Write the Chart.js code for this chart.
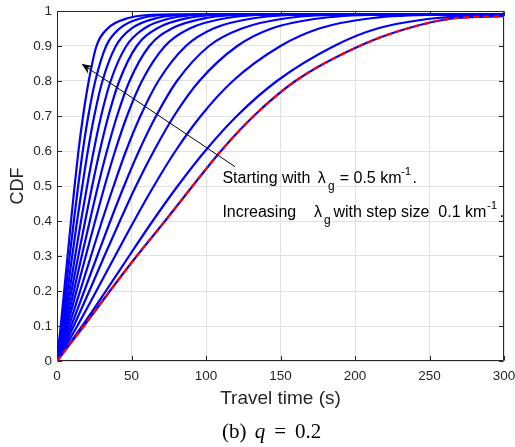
<!DOCTYPE html>
<html>
<head>
<meta charset="utf-8">
<script src="https://cdn.jsdelivr.net/npm/chart.js@4.4.0/dist/chart.umd.min.js"></script>
<style>
  html, body { margin: 0; padding: 0; background: #fff; }
  #wrap { position: relative; width: 515px; height: 447px; }
  #caption {
    position: absolute; left: 222px; top: 419px; line-height: 24px; white-space: nowrap;
    font-family: "Liberation Serif", "DejaVu Serif", serif; font-size: 21px; color: #000;
  }
  #caption .q { margin-left: 3px; }
  #caption .eq { margin: 0 9px; }
</style>
</head>
<body>
<div id="wrap">
  <canvas id="c" width="515" height="447"></canvas>
  <div id="caption">(b) <i class="q">q</i><span class="eq">=</span>0.2</div>
</div>
<script>
'use strict';

const LEVELS = [0, 0.1, 0.2, 0.3, 0.4, 0.5, 0.6, 0.7, 0.8, 0.9, 0.95, 0.98, 0.99];

// travel time (s) where each curve reaches LEVELS, lambda_g = 0.5 ... 1.7 km^-1
// (null = level not reached inside 0..300 s)
const T_L05 = [0, 18, 35.5, 53.5, 72.5, 91, 110, 132, 160, 203, 235, 268, null];
const T_L06 = [0, 16.9, 32.8, 48.4, 64.2, 81, 99.4, 120.7, 147.6, 186, 215, 255, null];
const T_L07 = [0, 13.6, 26.4, 39, 51.7, 65, 79.5, 96.5, 118, 150, 176, 212, 265];
const T_L08 = [0, 11.2, 21.7, 31.8, 42.2, 53, 65, 78.5, 95.5, 121, 144, 178, 225];
const T_L09 = [0, 9.5, 18.3, 27, 35.8, 45, 55, 66.5, 80.5, 102, 124, 155, 200];
const T_L10 = [0, 8.0, 15.5, 22.8, 30.2, 38, 46.3, 56, 68, 86.5, 105, 133, 175];
const T_L11 = [0, 6.8, 13.1, 19.3, 25.6, 32, 39, 47, 57, 72.5, 89, 114, 150];
const T_L12 = [0, 5.9, 11.3, 16.6, 22, 27.5, 33.5, 40.3, 48.7, 62, 77, 100, 133];
const T_L13 = [0, 5.0, 9.7, 14.3, 18.9, 23.6, 28.7, 34.5, 41.8, 53.5, 67, 88, 118];
const T_L14 = [0, 4.3, 8.3, 12.2, 16.1, 20.2, 24.6, 29.6, 36, 46.5, 58.5, 77, 105];
const T_L15 = [0, 3.6, 7.0, 10.2, 13.5, 17, 20.7, 25, 30.5, 39.5, 50, 67, 93];
const T_L16 = [0, 3.0, 5.8, 8.5, 11.3, 14.2, 17.3, 21, 25.7, 33, 42, 57, 80];
const T_L17 = [0, 2.5, 4.8, 7.1, 9.4, 11.8, 14.4, 17.5, 21.3, 26.5, 34, 48, 70];

const CURVES = [T_L05, T_L06, T_L07, T_L08, T_L09, T_L10, T_L11, T_L12, T_L13, T_L14, T_L15, T_L16, T_L17];

// CDF value at the end of the time axis (300 s), same order as CURVES
const END_T = 300;
const END_CDF = [0.985, 0.988, 0.991, 0.991, 0.991, 0.991, 0.991, 0.991, 0.991, 0.991, 0.991, 0.991, 0.991];

// simulated curve for lambda_g = 0.5 (lies on the analytical one)
const SIM_T = T_L05;
const SIM_END = 0.985;

const X_TICKS = [0, 50, 100, 150, 200, 250, 300];
const Y_TICKS = [0, 0.1, 0.2, 0.3, 0.4, 0.5, 0.6, 0.7, 0.8, 0.9, 1];

const AX = '#262626';
const FONT = '"Liberation Sans", Arial, Helvetica, sans-serif';

function points(times, endVal) {
  const pts = [];
  times.forEach((t, i) => { if (t !== null) pts.push({ x: t, y: LEVELS[i] }); });
  pts.push({ x: END_T, y: endVal });
  return pts;
}

const datasets = CURVES.map((times, i) => ({
  data: points(times, END_CDF[i]),
  borderColor: '#0000ff',
  borderWidth: 2.2,
  pointRadius: 0,
  cubicInterpolationMode: 'monotone',
  fill: false,
  order: 1
}));
datasets.push({
  data: points(SIM_T, SIM_END),
  borderColor: '#ff0000',
  borderWidth: 2.2,
  borderDash: [6, 4],
  pointRadius: 0,
  cubicInterpolationMode: 'monotone',
  fill: false,
  order: 0
});

// ── axes box with inward ticks (drawn under the curves) ─────────────────
const boxPlugin = {
  id: 'box',
  beforeDatasetsDraw(chart) {
    const { ctx, chartArea: a, scales: { x, y } } = chart;
    const L = Math.round(a.left) + 0.5, R = Math.round(a.right) - 0.5;
    const T = Math.round(a.top) + 0.5, B = Math.round(a.bottom) - 0.5;
    const tl = 4.5;
    ctx.save();
    ctx.strokeStyle = AX;
    ctx.lineWidth = 1;
    ctx.beginPath();
    ctx.rect(L, T, R - L, B - T);
    X_TICKS.forEach(v => {
      const px = Math.round(x.getPixelForValue(v)) + 0.5;
      ctx.moveTo(px, B); ctx.lineTo(px, B - tl);
      ctx.moveTo(px, T); ctx.lineTo(px, T + tl);
    });
    Y_TICKS.forEach(v => {
      const py = Math.round(y.getPixelForValue(v)) + 0.5;
      ctx.moveTo(L, py); ctx.lineTo(L + tl, py);
      ctx.moveTo(R, py); ctx.lineTo(R - tl, py);
    });
    ctx.stroke();
    ctx.restore();
  }
};

// ── arrow + text annotation ──────────────────────────────────────────────
const ARROW_FROM = [119.5, 0.555];
const ARROW_TO = [16.5, 0.849];
const TEXT_X = 111;
const TEXT_Y = [0.509, 0.412];

function richLine(ctx, x0, y0, parts) {
  parts.forEach(p => {
    ctx.font = p.size + 'px ' + FONT;
    ctx.fillText(p.t, x0 + p.dx, y0 + (p.dy || 0));
  });
}

const annotPlugin = {
  id: 'annot',
  afterDatasetsDraw(chart) {
    const { ctx, scales: { x, y } } = chart;
    const x1 = x.getPixelForValue(ARROW_FROM[0]), y1 = y.getPixelForValue(ARROW_FROM[1]);
    const x2 = x.getPixelForValue(ARROW_TO[0]),   y2 = y.getPixelForValue(ARROW_TO[1]);
    const ang = Math.atan2(y2 - y1, x2 - x1);
    const hl = 11, hw = 4.5;
    ctx.save();
    ctx.strokeStyle = '#000';
    ctx.fillStyle = '#000';
    ctx.lineWidth = 1;
    ctx.beginPath();
    ctx.moveTo(x1, y1);
    ctx.lineTo(x2 - Math.cos(ang) * hl * 0.6, y2 - Math.sin(ang) * hl * 0.6);
    ctx.stroke();
    // notched arrow head
    const bx = x2 - Math.cos(ang) * hl, by = y2 - Math.sin(ang) * hl;
    const nx = -Math.sin(ang), ny = Math.cos(ang);
    const mx = x2 - Math.cos(ang) * hl * 0.65, my = y2 - Math.sin(ang) * hl * 0.65;
    ctx.beginPath();
    ctx.moveTo(x2, y2);
    ctx.lineTo(bx + nx * hw, by + ny * hw);
    ctx.lineTo(mx, my);
    ctx.lineTo(bx - nx * hw, by - ny * hw);
    ctx.closePath();
    ctx.fill();

    ctx.textAlign = 'left';
    ctx.textBaseline = 'alphabetic';
    const tx = x.getPixelForValue(TEXT_X);
    richLine(ctx, tx, y.getPixelForValue(TEXT_Y[0]), [
      { t: 'Starting with', dx: 0, size: 16 },
      { t: 'λ', dx: 95.3, size: 16 },
      { t: 'g', dx: 105.5, size: 12, dy: 7 },
      { t: '= 0.5 km', dx: 117.3, size: 16 },
      { t: '-1', dx: 178.5, size: 11.5, dy: -8 },
      { t: '.', dx: 190, size: 16 }
    ]);
    richLine(ctx, tx, y.getPixelForValue(TEXT_Y[1]), [
      { t: 'Increasing', dx: 0, size: 16 },
      { t: 'λ', dx: 91.7, size: 16 },
      { t: 'g', dx: 101.5, size: 12, dy: 7 },
      { t: 'with step size  0.1 km', dx: 111, size: 16 },
      { t: '-1', dx: 264.5, size: 11.5, dy: -8 },
      { t: '.', dx: 277, size: 16 }
    ]);
    ctx.restore();
  }
};

new Chart(document.getElementById('c').getContext('2d'), {
  type: 'line',
  data: { datasets },
  plugins: [boxPlugin, annotPlugin],
  options: {
    responsive: false,
    animation: false,
    events: [],
    layout: { padding: { left: 0, right: 11, top: 11, bottom: 0 } },
    plugins: { legend: { display: false }, tooltip: { enabled: false } },
    scales: {
      x: {
        type: 'linear', min: 0, max: 300,
        afterFit: s => { s.height = 86; s.paddingLeft = 0; s.paddingRight = 0; },
        afterBuildTicks: s => { s.ticks = X_TICKS.map(v => ({ value: v })); },
        ticks: { color: AX, padding: 7, maxRotation: 0, font: { family: FONT, size: 13.5 } },
        grid: { color: '#e1e1e1', drawTicks: false },
        border: { display: false },
        title: { display: true, text: 'Travel time (s)', color: AX,
                 font: { family: FONT, size: 19 }, padding: { top: 0, bottom: 37 } }
      },
      y: {
        type: 'linear', min: 0, max: 1,
        afterFit: s => { s.width = 57; s.paddingTop = 0; s.paddingBottom = 0; },
        afterBuildTicks: s => { s.ticks = Y_TICKS.map(v => ({ value: v })); },
        ticks: { color: AX, padding: 5, font: { family: FONT, size: 13.5 },
                 callback: v => String(Math.round(v * 10) / 10) },
        grid: { color: '#e1e1e1', drawTicks: false },
        border: { display: false },
        title: { display: true, text: 'CDF', color: AX,
                 font: { family: FONT, size: 18 }, padding: { top: 7, bottom: 0 } }
      }
    }
  }
});
</script>
</body>
</html>
